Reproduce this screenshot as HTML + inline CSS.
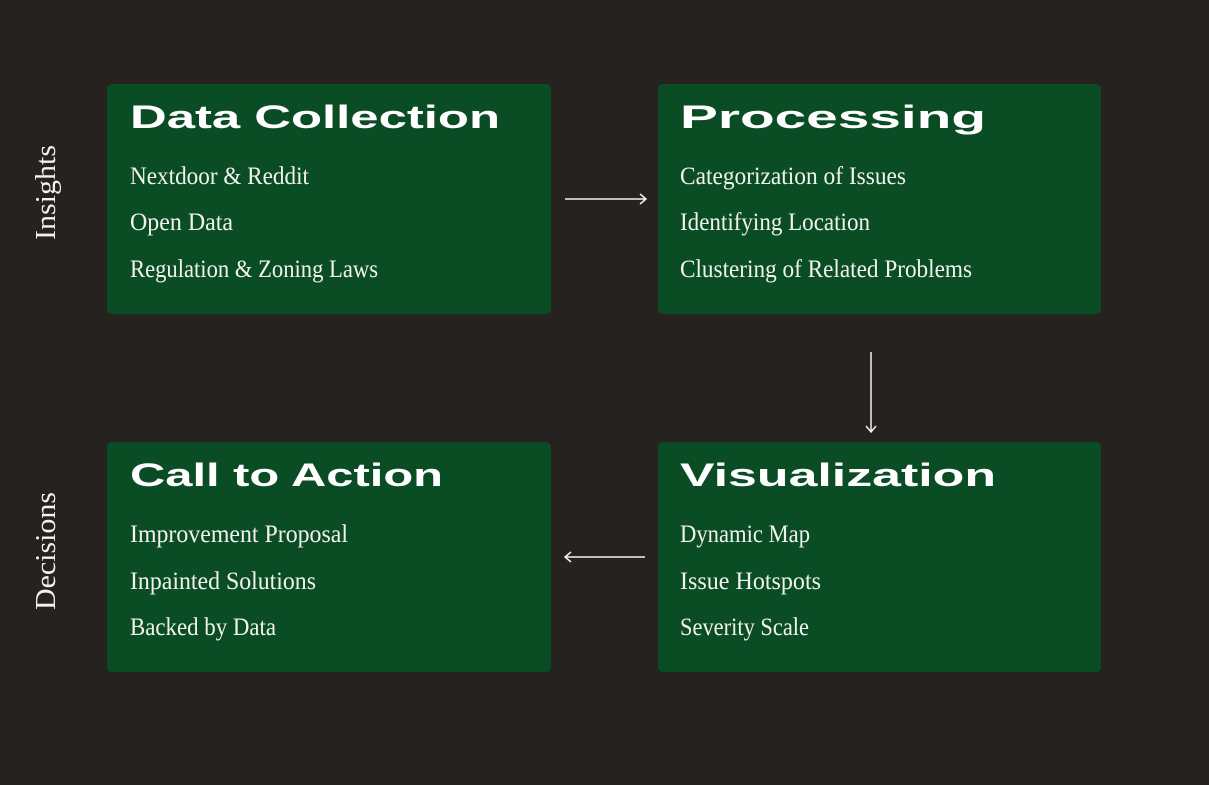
<!DOCTYPE html>
<html><head><meta charset="utf-8"><style>
html,body{margin:0;padding:0;background:#252220;}
svg{display:block}
.t{font-family:"Liberation Sans",sans-serif;font-weight:bold;font-size:32px;fill:#fff}
.b{font-family:"Liberation Serif",serif;font-size:25px;fill:#f2f2ee}
.s{font-family:"Liberation Serif",serif;font-size:29px;fill:#f2f2ee}
</style></head><body>
<svg width="1209" height="785" viewBox="0 0 1209 785">
<rect width="1209" height="785" fill="#252220"/>
<g fill="#0a4d24">
<rect x="107" y="84" width="444" height="230" rx="5"/>
<rect x="658" y="84" width="443" height="230" rx="5"/>
<rect x="107" y="442" width="444" height="230" rx="5"/>
<rect x="658" y="442" width="443" height="230" rx="5"/>
</g>
<text class="t" x="130" y="128" textLength="370" lengthAdjust="spacingAndGlyphs">Data Collection</text>
<text class="b" x="130" y="184" textLength="179" lengthAdjust="spacingAndGlyphs">Nextdoor &amp; Reddit</text>
<text class="b" x="130" y="230" textLength="103" lengthAdjust="spacingAndGlyphs">Open Data</text>
<text class="b" x="130" y="277" textLength="248" lengthAdjust="spacingAndGlyphs">Regulation &amp; Zoning Laws</text>

<text class="t" x="680" y="128" textLength="306" lengthAdjust="spacingAndGlyphs">Processing</text>
<text class="b" x="680" y="184" textLength="226" lengthAdjust="spacingAndGlyphs">Categorization of Issues</text>
<text class="b" x="680" y="230" textLength="190" lengthAdjust="spacingAndGlyphs">Identifying Location</text>
<text class="b" x="680" y="277" textLength="292" lengthAdjust="spacingAndGlyphs">Clustering of Related Problems</text>

<text class="t" x="130" y="486" textLength="313" lengthAdjust="spacingAndGlyphs">Call to Action</text>
<text class="b" x="130" y="542" textLength="218" lengthAdjust="spacingAndGlyphs">Improvement Proposal</text>
<text class="b" x="130" y="589" textLength="186" lengthAdjust="spacingAndGlyphs">Inpainted Solutions</text>
<text class="b" x="130" y="635" textLength="146" lengthAdjust="spacingAndGlyphs">Backed by Data</text>

<text class="t" x="680" y="486" textLength="316" lengthAdjust="spacingAndGlyphs">Visualization</text>
<text class="b" x="680" y="542" textLength="130" lengthAdjust="spacingAndGlyphs">Dynamic Map</text>
<text class="b" x="680" y="589" textLength="141" lengthAdjust="spacingAndGlyphs">Issue Hotspots</text>
<text class="b" x="680" y="635" textLength="129" lengthAdjust="spacingAndGlyphs">Severity Scale</text>

<text class="s" transform="translate(55,240) rotate(-90)" textLength="95" lengthAdjust="spacingAndGlyphs">Insights</text>
<text class="s" transform="translate(55,610) rotate(-90)" textLength="118" lengthAdjust="spacingAndGlyphs">Decisions</text>

<g stroke="#f2f2ee" stroke-width="1.5" fill="none">
<path d="M565 199H646M640 194L646 199L640 204"/>
<path d="M871 352V432M866 426L871 432L876 426"/>
<path d="M645 557H565M571 552L565 557L571 562"/>
</g>
</svg>
</body></html>
